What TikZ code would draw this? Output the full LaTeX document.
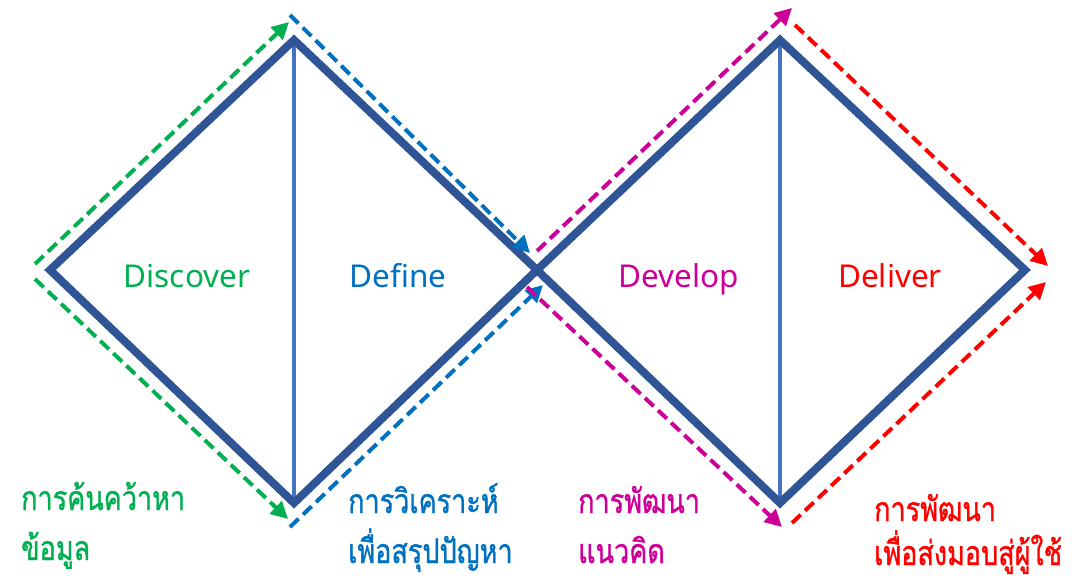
\documentclass[tikz,border=0pt]{standalone}
\usepackage{fontspec}
\usepackage{graphicx}
\setmainfont{Noto Sans}
\newfontfamily\thaifont[Script=Thai,FakeBold=1.2]{Loma}
\usetikzlibrary{arrows.meta}
\definecolor{dblue}{HTML}{2F5597}
\definecolor{lblue}{HTML}{4472C4}
\definecolor{cgreen}{HTML}{00B050}
\definecolor{cblue}{HTML}{0070C0}
\definecolor{cmag}{HTML}{CC0099}
\definecolor{cred}{HTML}{FF0000}
\newcommand{\thaitxt}[1]{\scalebox{1}[1.25]{#1}}
\tikzset{
  outline/.style={draw=dblue, line width=8pt, line join=miter},
  divider/.style={draw=lblue, line width=3.5pt},
  flow/.style={line width=4pt, dash pattern=on 12pt off 6pt, -{Triangle[length=17pt,width=17pt]}},
  phase/.style={font=\fontsize{31.5}{33}\selectfont, anchor=base},
  thai/.style={font=\thaifont\fontsize{27}{29}\selectfont, anchor=base west, inner sep=0pt}
}
\begin{document}
\begin{tikzpicture}[x=1pt,y=-1pt]
\useasboundingbox (0,0) rectangle (1089,581);
% diamonds
\coordinate (L) at (50,270);
\coordinate (T1) at (294,40);
\coordinate (B1) at (294,503);
\coordinate (C) at (537,270);
\coordinate (T2) at (780,40);
\coordinate (B2) at (780,503);
\coordinate (R) at (1025,270);
\draw[divider] (T1) -- (B1);
\draw[divider] (T2) -- (B2);
\draw[outline] (L) -- (T1) -- (C) -- (B1) -- cycle;
\draw[outline] (C) -- (T2) -- (R) -- (B2) -- cycle;
% flow arrows
\coordinate (g1s) at (35,264);  \coordinate (g1e) at (289,22);
\coordinate (g2s) at (35,279);  \coordinate (g2e) at (288,519);
\coordinate (b1s) at (290,15);  \coordinate (b1e) at (530,253);
\coordinate (b2s) at (290,527); \coordinate (b2e) at (543,285);
\coordinate (m1s) at (537,251); \coordinate (m1e) at (792,8);
\coordinate (m2s) at (527,287); \coordinate (m2e) at (782,527);
\coordinate (r1s) at (795,25);  \coordinate (r1e) at (1048,266);
\coordinate (r2s) at (792,523); \coordinate (r2e) at (1046,282);
\draw[flow, cgreen] (g1s) -- (g1e);
\draw[flow, cgreen] (g2s) -- (g2e);
\draw[flow, cblue] (b1s) -- (b1e);
\draw[flow, cblue] (b2s) -- (b2e);
\draw[flow, cmag] (m1s) -- (m1e);
\draw[flow, cmag] (m2s) -- (m2e);
\draw[flow, cred] (r1s) -- (r1e);
\draw[flow, cred] (r2s) -- (r2e);
% phase labels
\node[phase, text=cgreen] (discover) at (187,287) {Discover};
\node[phase, text=cblue] (define) at (398,287) {Define};
\node[phase, text=cmag] (develop) at (679,287) {Develop};
\node[phase, text=cred] (deliver) at (890,287) {Deliver};
% thai labels
\node[thai, text=cgreen] (t1a) at (21,510) {\thaitxt{การค้นคว้าหา}};
\node[thai, text=cgreen] (t1b) at (21,560) {\thaitxt{ข้อมูล}};
\node[thai, text=cblue] (t2a) at (348,513) {\thaitxt{การวิเคราะห์}};
\node[thai, text=cblue] (t2b) at (348,563) {\thaitxt{เพื่อสรุปปัญหา}};
\node[thai, text=cmag] (t3a) at (578,513) {\thaitxt{การพัฒนา}};
\node[thai, text=cmag] (t3b) at (578,563) {\thaitxt{แนวคิด}};
\node[thai, text=cred] (t4a) at (874,521) {\thaitxt{การพัฒนา}};
\node[thai, text=cred] (t4b) at (874,565) {\thaitxt{เพื่อส่งมอบสู่ผู้ใช้}};
\end{tikzpicture}
\end{document}
